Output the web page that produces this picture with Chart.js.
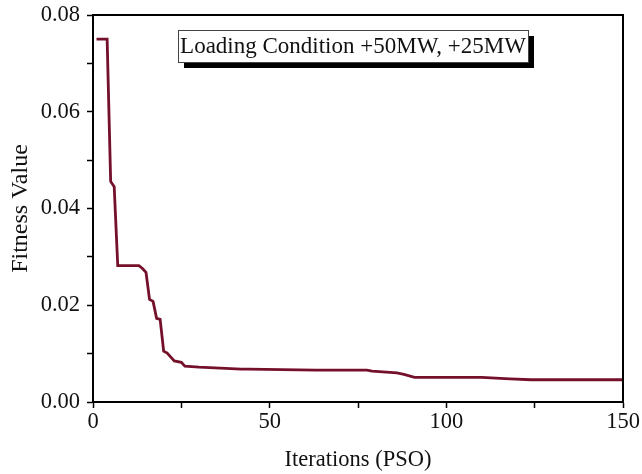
<!DOCTYPE html>
<html>
<head>
<meta charset="utf-8">
<script src="https://cdn.jsdelivr.net/npm/chart.js@4.4.0/dist/chart.umd.min.js"></script>
<style>
  html, body { margin: 0; padding: 0; background: #fff; }
  #wrap { width: 642px; height: 474px; }
</style>
</head>
<body>
<div id="wrap"><canvas id="chart" width="642" height="474"></canvas></div>
<script>
// PSO convergence curve
const iterations = [1, 4, 5, 6, 7, 13, 14, 15, 16, 17, 18, 19, 20, 21, 23, 25, 26, 30, 42, 44, 63, 77.5, 79, 86, 88, 91, 110, 118, 124, 150];
const fitness    = [0.075, 0.075, 0.0456, 0.0445, 0.0282, 0.0282, 0.0276, 0.0268, 0.0212, 0.0208, 0.0173, 0.0171, 0.0105, 0.0101, 0.0085, 0.0082, 0.0074, 0.0072, 0.0068, 0.0068, 0.0066, 0.0066, 0.0064, 0.0060, 0.0057, 0.0051, 0.0051, 0.0048, 0.0046, 0.0046];

const xTicks = [0, 50, 100, 150];
const yTicks = [0, 0.02, 0.04, 0.06, 0.08];
const annotationText = 'Loading Condition +50MW, +25MW';

const SERIF = "'Liberation Serif', 'Times New Roman', serif";
const LINE_COLOR = '#74102a';

// frame around the plot area + the shadowed label box
const framePlugin = {
  id: 'frame',
  afterDraw(chart) {
    const { ctx, chartArea: a } = chart;
    ctx.save();
    ctx.strokeStyle = '#000';
    ctx.lineWidth = 2;
    ctx.strokeRect(a.left, a.top, a.right - a.left, a.bottom - a.top);

    // label box
    const bx = 178, by = 30, bw = 350, bh = 32;
    ctx.fillStyle = '#000';
    ctx.fillRect(bx + 6, by + 6, bw, bh);
    ctx.fillStyle = '#fff';
    ctx.fillRect(bx, by, bw, bh);
    ctx.lineWidth = 1;
    ctx.strokeStyle = '#444';
    ctx.strokeRect(bx + 0.5, by + 0.5, bw, bh);
    ctx.fillStyle = '#111';
    ctx.font = '23px ' + SERIF;
    ctx.textBaseline = 'middle';
    ctx.textAlign = 'center';
    ctx.fillText(annotationText, bx + bw / 2, by + bh / 2 + 1);
    ctx.restore();
  }
};

const ctx = document.getElementById('chart').getContext('2d');

new Chart(ctx, {
  type: 'line',
  data: {
    datasets: [{
      data: iterations.map((x, i) => ({ x, y: fitness[i] })),
      borderColor: LINE_COLOR,
      borderWidth: 2.8,
      pointRadius: 0,
      tension: 0,
      fill: false,
    }]
  },
  options: {
    responsive: false,
    animation: false,
    layout: { padding: { top: 15, right: 19, left: 0, bottom: 0 } },
    plugins: {
      legend: { display: false },
      tooltip: { enabled: false }
    },
    scales: {
      x: {
        type: 'linear',
        min: 0,
        max: 150,
        afterFit: s => { s.height = 72; },
        grid: { drawOnChartArea: false, color: '#000', tickLength: 6, tickWidth: 1.5 },
        border: { color: '#000', width: 2 },
        ticks: {
          stepSize: 25,
          color: '#111',
          font: { family: SERIF, size: 22.5 },
          padding: 1,
          maxRotation: 0,
          callback: v => xTicks.includes(v) ? String(v) : ''
        },
        title: {
          display: true,
          text: 'Iterations (PSO)',
          color: '#111',
          font: { family: SERIF, size: 22.5 },
          padding: { top: 2, bottom: 0 }
        }
      },
      y: {
        min: 0,
        max: 0.08,
        afterFit: s => { s.width = 93; s.paddingTop = 0; s.paddingBottom = 0; },
        grid: { drawOnChartArea: false, color: '#000', tickLength: 6, tickWidth: 1.5 },
        border: { color: '#000', width: 2 },
        ticks: {
          stepSize: 0.01,
          color: '#111',
          font: { family: SERIF, size: 22.5 },
          padding: 7,
          callback: v => {
            const r = Math.round(v * 100) / 100;
            return yTicks.some(t => Math.abs(t - r) < 1e-9) && Math.abs(v - r) < 1e-9 && Math.round(r * 100) % 2 === 0 ? r.toFixed(2) : '';
          }
        },
        title: {
          display: true,
          text: 'Fitness Value',
          color: '#111',
          font: { family: SERIF, size: 24 },
          padding: { top: 6, bottom: 0 }
        }
      }
    }
  },
  plugins: [framePlugin]
});
</script>
</body>
</html>
